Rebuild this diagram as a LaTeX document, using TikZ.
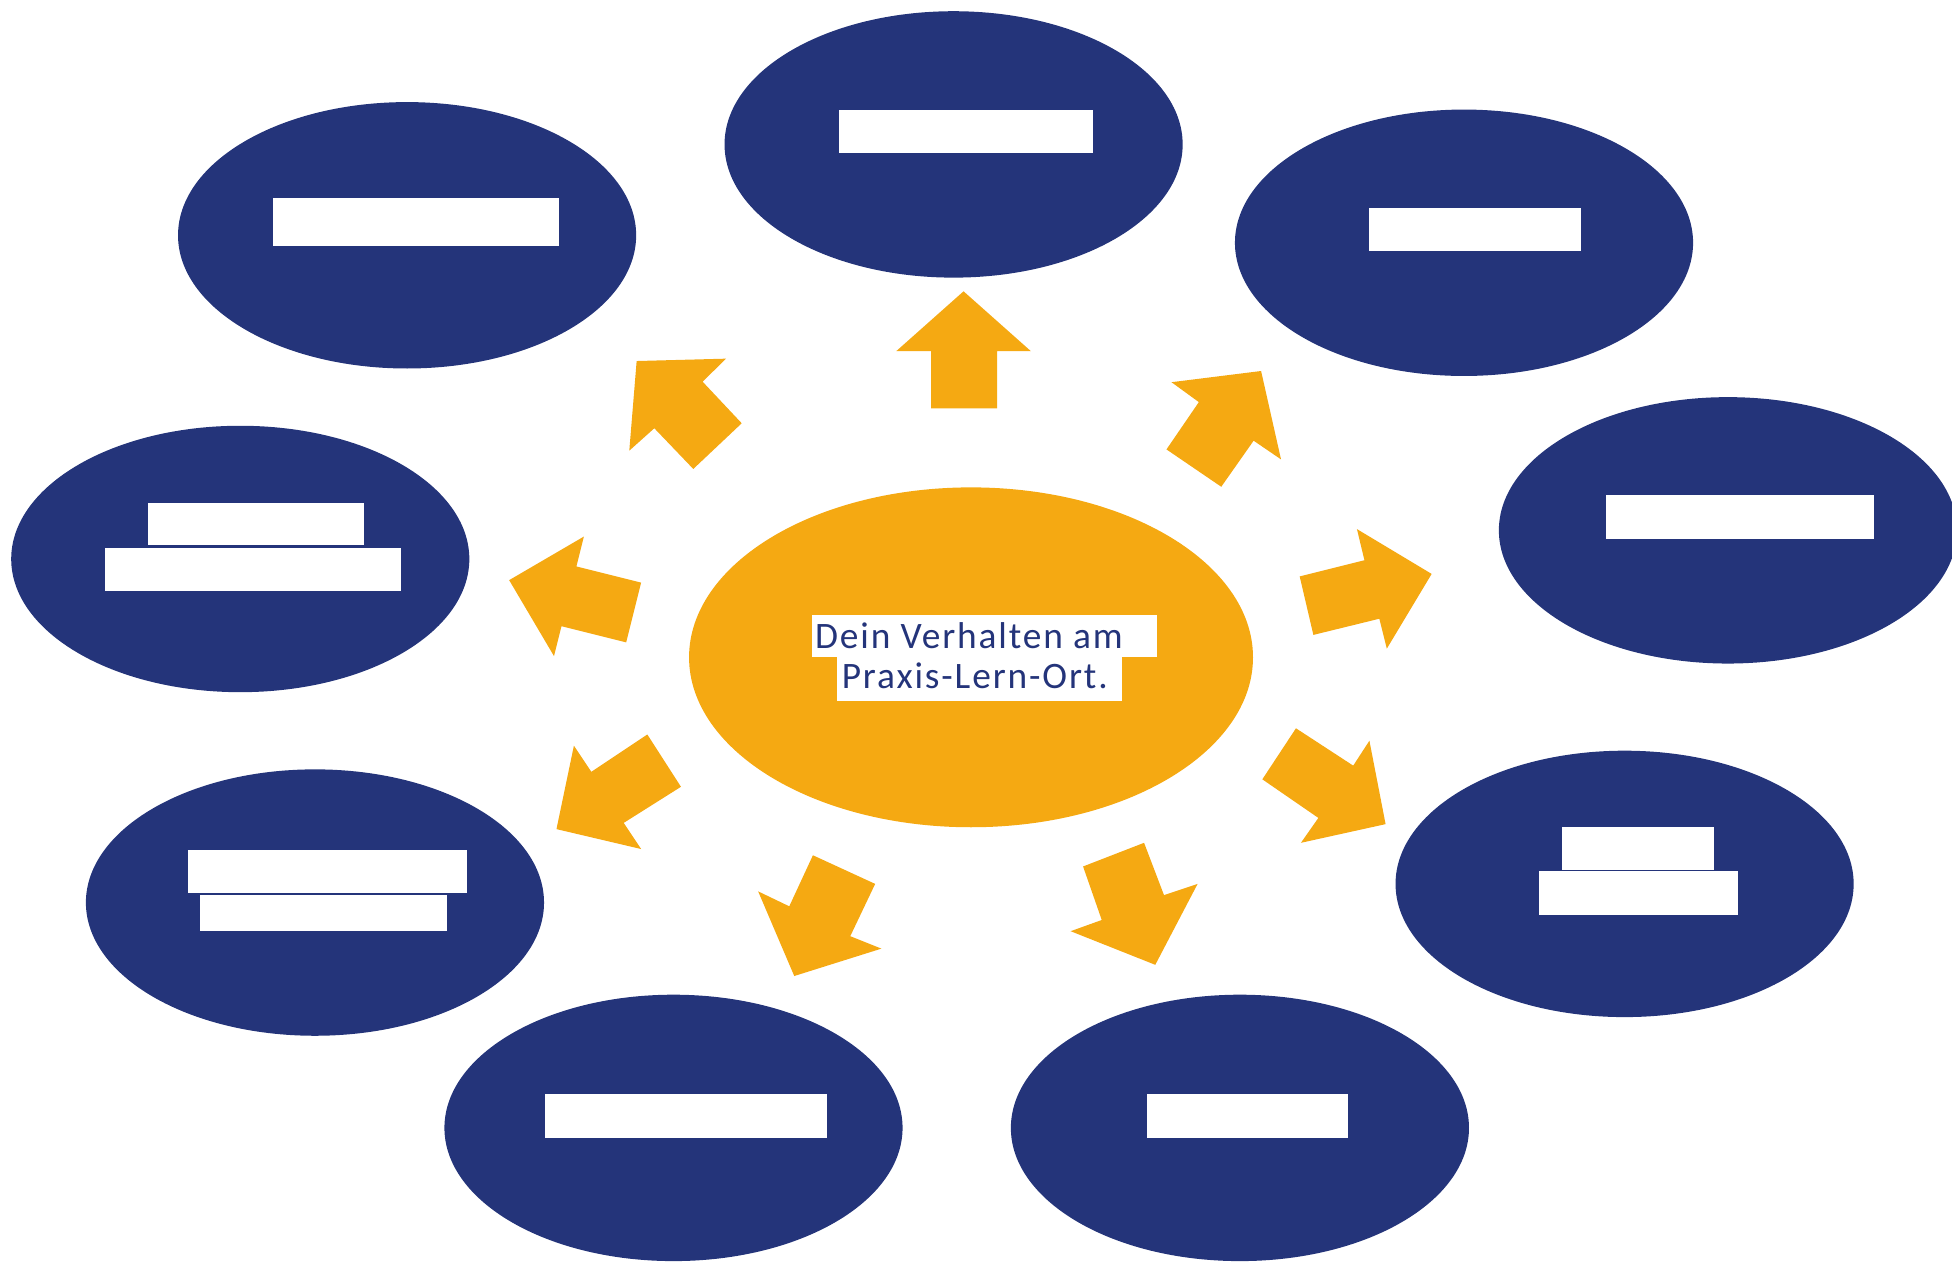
\documentclass[tikz,border=0pt]{standalone}
\usepackage{fontspec}
\setmainfont{Carlito}
\newfontfamily\spacedfont[LetterSpace=5]{Carlito}
\usetikzlibrary{shapes.geometric}
\definecolor{navy}{RGB}{36,52,122}
\definecolor{gold}{RGB}{245,169,18}
\tikzset{
  blob/.style={ellipse,fill=navy,inner sep=0pt,minimum width=368pt,minimum height=214pt},
  hub/.style={ellipse,fill=gold,inner sep=0pt,minimum width=453pt,minimum height=273pt},
  bar/.style={fill=white},
  blockarrow/.style={fill=gold},
  lbl/.style={anchor=base west,inner sep=0pt,text=navy,font=\spacedfont\fontsize{30}{32}\selectfont}
}
\begin{document}
\begin{tikzpicture}[x=1pt,y=-1pt]
\useasboundingbox (0,0) rectangle (1568,1013);
\clip (0,0) rectangle (1568,1013);
% outer ellipses
\node[blob] (e1) at (766,116) {};
\node[blob] (e2) at (327,189) {};
\node[blob] (e3) at (1176,195) {};
\node[blob] (e4) at (1388,426) {};
\node[blob] (e5) at (193,449) {};
\node[blob] (e6) at (253,725) {};
\node[blob] (e7) at (541,906) {};
\node[blob] (e8) at (996,906) {};
\node[blob] (e9) at (1305,710) {};
% white bars
\fill[bar] (674,88) rectangle (878,123);
\fill[bar] (219,159) rectangle (449,198);
\fill[bar] (1100,167) rectangle (1270,202);
\fill[bar] (1290,398) rectangle (1505,433);
\fill[bar] (119,404) rectangle (292,438);
\fill[bar] (84,440) rectangle (322,475);
\fill[bar] (151,683) rectangle (375,717);
\fill[bar] (161,719) rectangle (359,748);
\fill[bar] (438,879) rectangle (664,914);
\fill[bar] (921,879) rectangle (1083,914);
\fill[bar] (1255,664) rectangle (1377,699);
\fill[bar] (1236,700) rectangle (1396,735);
% centre
\node[hub] (c) at (780,528) {};
\fill[bar] (652,494) rectangle (929,528);
\fill[bar] (672,528) rectangle (901,563);
\node[lbl] (t1) at (654.5,520.8) {Dein Verhalten am};
\node[lbl] (t2) at (676,553) {Praxis-Lern-Ort.};
% block arrows
\fill[blockarrow] (774,234) -- (828,282) -- (801,282) -- (801,328) -- (748,328) -- (748,282) -- (720,282) -- cycle;
\fill[blockarrow] (511.4,290) -- (583.2,288.1) -- (564.4,306.6) -- (595.8,340) -- (556.9,376.7) -- (525.6,344) -- (505.5,362) -- cycle;
\fill[blockarrow] (941,307) -- (1013,298) -- (1029,369) -- (1007,354) -- (981,391) -- (937,361) -- (963,323) -- cycle;
\fill[blockarrow] (1090,425) -- (1150,461) -- (1114,521) -- (1108,497) -- (1055,510) -- (1044,463) -- (1096,450) -- cycle;
\fill[blockarrow] (409,466) -- (469,431) -- (463,455) -- (515,468) -- (503,516) -- (451,503) -- (445,527) -- cycle;
\fill[blockarrow] (447,666) -- (461,599) -- (475,620) -- (520,590) -- (547,632) -- (501,661) -- (515,682) -- cycle;
\fill[blockarrow] (609,716) -- (634,728) -- (653,687) -- (703,710) -- (683,752) -- (708,762) -- (638,784) -- cycle;
\fill[blockarrow] (860,748) -- (885,739) -- (870,696) -- (919,677) -- (935,719) -- (962,710) -- (928,775) -- cycle;
\fill[blockarrow] (1014,626) -- (1041,585) -- (1087,615) -- (1100,595) -- (1113,662) -- (1045,677) -- (1059,657) -- cycle;
\end{tikzpicture}
\end{document}
